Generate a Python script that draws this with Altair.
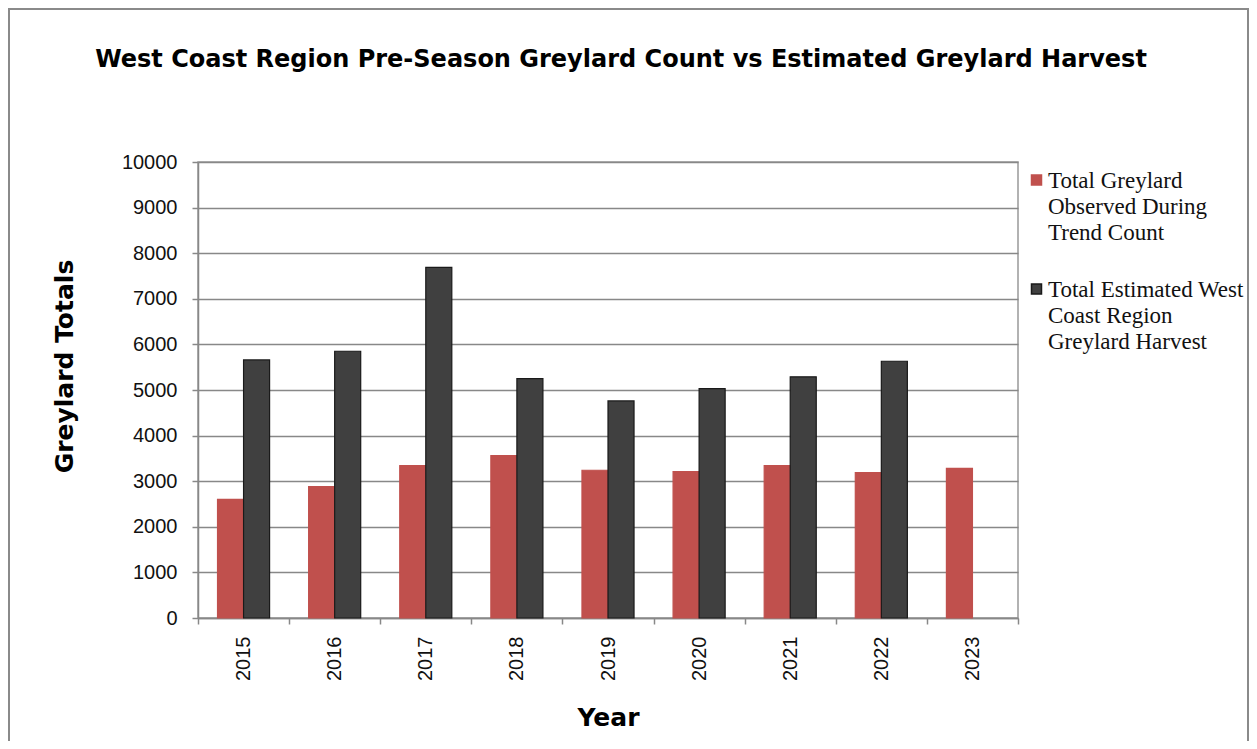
import altair as alt
import pandas as pd

years = ["2015", "2016", "2017", "2018", "2019", "2020", "2021", "2022", "2023"]
trend_count = [2600, 2880, 3340, 3560, 3240, 3210, 3340, 3190, 3280]
harvest = [5660, 5850, 7690, 5250, 4760, 5030, 5290, 5630, None]
series = [
    "Total Greylard|Observed During|Trend Count",
    "Total Estimated West|Coast Region|Greylard Harvest",
]
colors = ["#C0504D", "#404040"]
strokes = ["#C0504D", "#1a1a1a"]
y_ticks = [0, 1000, 2000, 3000, 4000, 5000, 6000, 7000, 8000, 9000, 10000]

rows = []
for y, c, h in zip(years, trend_count, harvest):
    rows.append({"Year": y, "series": series[0], "value": c})
    if h is not None:
        rows.append({"Year": y, "series": series[1], "value": h})
df = pd.DataFrame(rows)

legend = alt.Legend(
    title=None,
    orient="none",
    legendX=827,
    legendY=-4,
    labelExpr="split(datum.label, '|')",
    labelFont="Liberation Serif",
    labelFontSize=23,
    labelColor="#111",
    labelBaseline="top",
    labelLimit=300,
    symbolType="M-1,1.1L1,1.1L1,3.1L-1,3.1Z",
    symbolSize=100,
    symbolOffset=0,
    rowPadding=22,
    labelOffset=0,
)

bars = alt.Chart(df).mark_bar(strokeWidth=1.2).encode(
    x=alt.X(
        "Year:N",
        sort=years,
        scale=alt.Scale(domain=years, paddingInner=0, paddingOuter=0),
        axis=alt.Axis(
            title="Year",
            labelAngle=270,
            labelFont="Liberation Sans",
            labelFontSize=20,
            labelColor="#111",
            labelPadding=12,
            tickBand="extent",
            tickSize=6,
            tickColor="#888",
            tickWidth=1.5,
            domainColor="#888",
            domainWidth=1.5,
            grid=False,
            titleFont="DejaVu Sans",
            titleFontWeight="bold",
            titleFontSize=25,
            titleColor="#000",
            titlePadding=25,
        ),
    ),
    xOffset=alt.XOffset(
        "series:N",
        sort=series,
        scale=alt.Scale(domain=series, paddingInner=0, paddingOuter=0.75),
    ),
    y=alt.Y(
        "value:Q",
        scale=alt.Scale(domain=[0, 10000], nice=False),
        axis=alt.Axis(
            title="Greylard Totals",
            values=y_ticks,
            format="d",
            labelFont="Liberation Sans",
            labelFontSize=20,
            labelColor="#111",
            labelPadding=15,
            tickSize=6,
            tickColor="#888",
            tickWidth=1.5,
            domainColor="#888",
            domainWidth=1.5,
            gridColor="#888",
            gridWidth=1.5,
            titleFont="DejaVu Sans",
            titleFontWeight="bold",
            titleFontSize=25,
            titleColor="#000",
            titlePadding=44,
            titleY=204,
        ),
    ),
    color=alt.Color("series:N", sort=series, scale=alt.Scale(domain=series, range=colors), legend=legend),
    stroke=alt.Stroke("series:N", sort=series, scale=alt.Scale(domain=series, range=strokes), legend=legend),
)

frame = alt.Chart(alt.Data(values=[{"a": 1}])).mark_rect(
    fill=None, stroke="#8a8a8a", strokeWidth=2
).encode(
    x=alt.value(-189), x2=alt.value(1050), y=alt.value(-153), y2=alt.value(640)
)

chart = alt.layer(frame, bars).properties(
    width=820,
    height=456,
    title=alt.TitleParams(
        "West Coast Region Pre-Season Greylard Count vs Estimated Greylard Harvest",
        font="DejaVu Sans",
        fontSize=24,
        fontWeight="bold",
        color="#000",
        anchor="middle",
        frame="group",
        dx=13,
        offset=-64,
    ),
    autosize=alt.AutoSizeParams(type="none"),
    padding={"left": 190, "top": 154, "right": 231, "bottom": 123},
).configure(
    style={"guide-label": {"lineHeight": 26}},
).configure_view(stroke="#999", strokeWidth=1.5)

chart.save("out.html", embed_options={"renderer": "svg", "actions": False})
